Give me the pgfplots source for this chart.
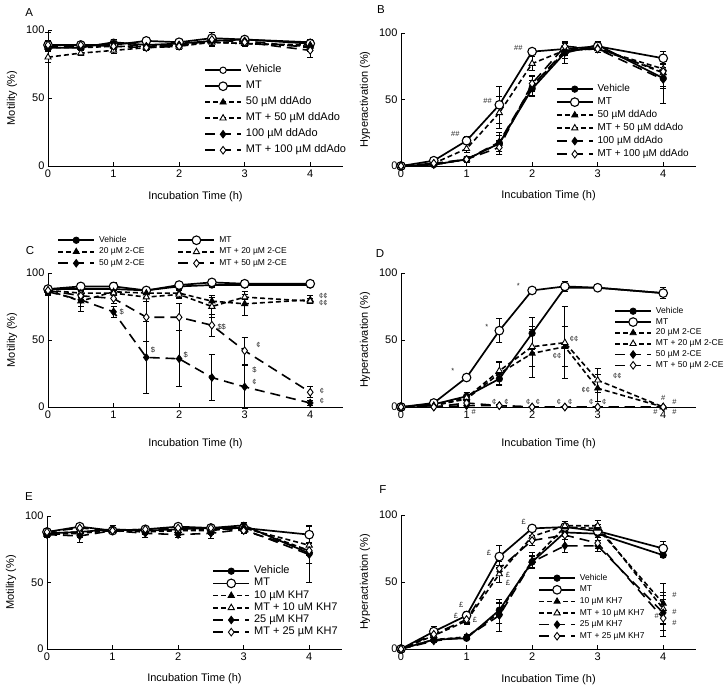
\documentclass[border=0pt]{standalone}
\usepackage{fontspec}
\setmainfont{Liberation Sans}
\usepackage{pgfplots}
\usepackage{pgfplotstable}
\pgfplotsset{compat=1.18}

% t = time (h); v = vehicle, m = MT, a/ma = low dose (+MT), b/mb = high dose (+MT); *e = error
\pgfplotstableread{
t   v  ve  m  me  a  ae  ma  mae  b  be  mb  mbe
0   87 2   89 3   87 2   80  4    88 2   89  9
0.5 87 2   89 2   87 2   83  2    88 2   89  2
1   91 2   89 2   88 2   85  2    90 3   88  2
1.5 89 2   92 2   88 2   87  2    88 2   87  2
2   90 2   91 2   89 2   88  2    89 2   88  2
2.5 92 3   94 4   91 2   91  2    92 3   93  5
3   93 2   93 2   90 2   90  2    92 2   91  2
4   91 2   90 2   89 2   88  2    87 3   85  5
}\tabA
\pgfplotstableread{
t   v  ve  m  me  a  ae  ma  mae  b  be  mb  mbe
0   0  0   0  0   0  0   0   0    0  0   0   0
0.5 1  1   4  1   1  1   2   1    1  1   2   1
1   5  1   19 3   5  2   13  3    5  2   5   2
1.5 17 6   46 14  17 8   40  12   18 5   14  5
2   58 6   86 2   60 7   77  5    60 8   62  6
2.5 85 8   88 4   86 5   87  4    87 6   90  4
3   91 3   90 2   89 4   88  3    88 3   88  3
4   66 8   81 5   70 10  73  8    65 18  71  6
}\tabB
\pgfplotstableread{
t   v  ve  m  me  a  ae  ma  mae  b  be  mb  mbe
0   88 2   88 2   87 3   87  2    86 3   87  2
0.5 88 2   90 2   79 8   85  3    80 5   83  3
1   88 3   90 3   86 2   85  2    71 4   81  4
1.5 87 2   87 2   85 3   82  3    37 27  67  18
2   90 2   91 3   85 3   84  3    36 21  67  10
2.5 91 2   93 2   79 3   75  8    22 17  61  8
3   91 2   92 2   77 9   82  2    15 16  42  10
4   91 2   92 2   80 3   79  2    3  2   11  4
}\tabC
\pgfplotstableread{
t   v  ve  m  me  a  ae  ma  mae  b  be  mb  mbe
0   0  0   0  0   0  0   0   0    0  0   0   0
0.5 2  1   3  1   1  1   1   1    0  0   0   0
1   8  3   22 2   6  2   7   2    1  1   3   1
1.5 21 5   57 9   25 8   27  7    1  1   1   1
2   55 12  87 2   40 18  45  15   0  0   0   0
2.5 89 3   90 4   45 15  48  27   0  0   0   0
3   89 2   89 2   14 10  20  9    0  0   0   0
4   85 4   85 4   0  0   0   0    0  0   0   0
}\tabD
\pgfplotstableread{
t   v  ve  m  me  a  ae  ma  mae  b  be  mb  mbe
0   87 2   88 2   86 2   87  2    86 2   88  2
0.5 88 2   92 2   87 3   88  2    85 5   91  2
1   90 3   89 2   89 2   89  2    89 2   89  2
1.5 89 2   90 2   88 2   89  2    87 3   90  2
2   90 2   92 2   89 2   89  2    86 2   91  2
2.5 91 2   91 2   89 3   90  2    87 4   91  2
3   93 2   91 2   92 2   91  2    90 2   89  2
4   72 8   86 7   74 10  78  8    71 21  74  10
}\tabE
\pgfplotstableread{
t   v  ve  m  me  a  ae  ma  mae  b  be  mb  mbe
0   0  0   0  0   0  0   0   0    0  0   0   0
0.5 7  1   13 4   7  2   10  2    6  1   11  2
1   8  1   25 3   9  2   21  3    9  1   22  3
1.5 29 5   69 8   27 8   56  6    25 12  60  5
2   65 4   90 2   66 6   84  4    65 5   81  4
2.5 87 3   91 2   91 3   92  3    77 5   85  3
3   86 3   88 3   90 3   92  4    77 4   79  4
4   70 2   75 5   34 15  30  12   27 13  23  14
}\tabF

\pgfplotsset{
  panel/.style={
    scale only axis, width=295pt, anchor=south west,
    xmin=0, xmax=4.5, ymin=0, ymax=100,
    axis x line*=bottom, axis y line*=left,
    axis line style={line width=0.9pt, black},
    xtick={0,1,2,3,4}, ytick={0,50,100},
    tick align=inside, major tick length=4pt,
    every tick/.style={black, line width=0.9pt},
    /pgf/number format/assume math mode=true,
    tick label style={font=\fontsize{11}{13}\selectfont},
    label style={font=\fontsize{11}{13}\selectfont},
    xlabel={Incubation Time (h)},
    xlabel style={at={(axis description cs:0.5,-0.225)}, anchor=center},
    ylabel style={at={(axis description cs:-0.122,0.5)}, anchor=center},
    clip=false,
    legend cell align=left,
    legend image code/.code={\draw[mark repeat=2,mark phase=2,##1] plot coordinates {(0pt,0pt) (18pt,0pt) (36pt,0pt)};},
    legend style={draw=none, fill=none, anchor=north west, inner sep=0pt,
      /tikz/every odd column/.append style={column sep=4pt}},
  },
  every axis plot/.append style={
    error bars/y dir=both, error bars/y explicit,
    error bars/error bar style={solid, line width=0.9pt, black},
    error bars/error mark options={rotate=90, solid, line width=0.9pt, mark size=3pt, black}},
  sveh/.style={black, solid, line width=1.7pt, mark=*, mark size=3.2pt, mark options={solid, fill=black, line width=0.8pt}},
  svehO/.style={black, solid, line width=1.7pt, mark=*, mark size=3.2pt, mark options={solid, fill=white, line width=1pt}},
  smt/.style={black, solid, line width=1.7pt, mark=*, mark size=4.3pt, mark options={solid, fill=white, line width=1.1pt}},
  sa/.style={black, line width=1.6pt, dash pattern=on 5pt off 3pt, mark=triangle*, mark size=3.6pt, mark options={solid, fill=black, line width=0.8pt}},
  sma/.style={black, line width=1.6pt, dash pattern=on 5pt off 3pt, mark=triangle*, mark size=3.6pt, mark options={solid, fill=white, line width=0.9pt}},
  sb/.style={black, line width=1.6pt, dash pattern=on 10pt off 6pt, mark=diamond*, mark size=3.8pt, mark options={solid, fill=black, line width=0.8pt}},
  smb/.style={black, line width=1.6pt, dash pattern=on 10pt off 6pt, mark=diamond*, mark size=3.8pt, mark options={solid, fill=white, line width=0.9pt}},
}
\tikzset{ann/.style={font=\fontsize{7.5}{8}\selectfont, inner sep=0pt, text=black!85},
  lett/.style={font=\fontsize{11.5}{13}\selectfont, inner sep=0pt}}

\begin{document}
\begin{tikzpicture}
\useasboundingbox (0pt,0pt) rectangle (725pt,689pt);

% ---------- A ----------
\begin{axis}[panel, at={(48pt,523pt)}, height=136pt,
  ylabel={Motility (\%)},
  legend style={at={(axis cs:2.38,74.6)}, font=\fontsize{11}{13}\selectfont, row sep=5pt,
    nodes={inner sep=0pt, text height=8pt, text depth=3pt}},
  legend entries={Vehicle, MT, 50 µM ddAdo, MT + 50 µM ddAdo, 100 µM ddAdo, MT + 100 µM ddAdo}]
\addplot[svehO] table[x=t,y=v,y error=ve]{\tabA};
\addplot[smt] table[x=t,y=m,y error=me]{\tabA};
\addplot[sa] table[x=t,y=a,y error=ae]{\tabA};
\addplot[sma] table[x=t,y=ma,y error=mae]{\tabA};
\addplot[sb] table[x=t,y=b,y error=be]{\tabA};
\addplot[smb] table[x=t,y=mb,y error=mbe]{\tabA};
\node[lett] at (rel axis cs:-0.064,1.125) {A};
\end{axis}

% ---------- B ----------
\begin{axis}[panel, at={(401pt,523pt)}, height=133pt,
  ylabel={Hyperactivation (\%)},
  legend style={at={(axis cs:2.36,61.7)}, font=\fontsize{10}{12}\selectfont, row sep=3pt,
    nodes={inner sep=0pt, text height=7.5pt, text depth=2.5pt}},
  legend entries={Vehicle, MT, 50 µM ddAdo, MT + 50 µM ddAdo, 100 µM ddAdo, MT + 100 µM ddAdo}]
\addplot[sveh] table[x=t,y=v,y error=ve]{\tabB};
\addplot[smt] table[x=t,y=m,y error=me]{\tabB};
\addplot[sa] table[x=t,y=a,y error=ae]{\tabB};
\addplot[sma] table[x=t,y=ma,y error=mae]{\tabB};
\addplot[sb] table[x=t,y=b,y error=be]{\tabB};
\addplot[smb] table[x=t,y=mb,y error=mbe]{\tabB};
\node[ann] at (axis cs:0.83,23.8) {\#\#};
\node[ann] at (axis cs:1.32,48.9) {\#\#};
\node[ann] at (axis cs:1.79,88.5) {\#\#};
\node[lett] at (rel axis cs:-0.068,1.18) {B};
\end{axis}

% ---------- C ----------
\begin{axis}[panel, at={(48pt,282pt)}, height=134pt,
  ylabel={Motility (\%)},
  xlabel style={at={(axis description cs:0.5,-0.276)}},
  legend columns=2,
  legend style={at={(axis cs:0.14,127.8)}, font=\fontsize{8.5}{10}\selectfont, row sep=3pt,
    nodes={inner sep=0pt, text height=6.3pt, text depth=2.2pt},
    /tikz/every even column/.append style={column sep=33pt}},
  legend entries={Vehicle, MT, 20 µM 2-CE, MT + 20 µM 2-CE, 50 µM 2-CE, MT + 50 µM 2-CE}]
\addplot[sveh] table[x=t,y=v,y error=ve]{\tabC};
\addplot[smt] table[x=t,y=m,y error=me]{\tabC};
\addplot[sa] table[x=t,y=a,y error=ae]{\tabC};
\addplot[sma] table[x=t,y=ma,y error=mae]{\tabC};
\addplot[sb] table[x=t,y=b,y error=be]{\tabC};
\addplot[smb] table[x=t,y=mb,y error=mbe]{\tabC};
\node[ann] at (axis cs:1.125,71) {\$};
\node[ann] at (axis cs:1.6,42.5) {\$};
\node[ann] at (axis cs:2.1,38.8) {\$};
\node[ann] at (axis cs:2.65,60) {\$\$};
\node[ann] at (axis cs:3.21,46) {¢};
\node[ann] at (axis cs:3.15,27.6) {\$};
\node[ann] at (axis cs:3.15,19) {¢};
\node[ann] at (axis cs:4.18,12) {¢};
\node[ann] at (axis cs:4.18,4.5) {¢};
\node[ann] at (axis cs:4.2,83) {¢¢};
\node[ann] at (axis cs:4.2,77.5) {¢¢};
\node[lett] at (rel axis cs:-0.061,1.164) {C};
\end{axis}

% ---------- D ----------
\begin{axis}[panel, at={(401pt,282pt)}, height=134pt,
  ylabel={Hyperactivation (\%)},
  xlabel style={at={(axis description cs:0.5,-0.276)}},
  legend style={at={(axis cs:3.25,74.8)}, font=\fontsize{8.5}{10}\selectfont, row sep=2.3pt,
    nodes={inner sep=0pt, text height=6.3pt, text depth=2.2pt}},
  legend entries={Vehicle, MT, 20 µM 2-CE, MT + 20 µM 2-CE, 50 µM 2-CE, MT + 50 µM 2-CE}]
\addplot[sveh] table[x=t,y=v,y error=ve]{\tabD};
\addplot[smt] table[x=t,y=m,y error=me]{\tabD};
\addplot[sa] table[x=t,y=a,y error=ae]{\tabD};
\addplot[sma] table[x=t,y=ma,y error=mae]{\tabD};
\addplot[sb] table[x=t,y=b,y error=be]{\tabD};
\addplot[smb] table[x=t,y=mb,y error=mbe]{\tabD};
\node[ann] at (axis cs:0.79,27) {*};
\node[ann] at (axis cs:1.31,60) {*};
\node[ann] at (axis cs:1.79,90) {*};
\node[ann] at (axis cs:2.64,51) {¢¢};
\node[ann] at (axis cs:2.38,38) {¢¢};
\node[ann] at (axis cs:3.3,23) {¢¢};
\node[ann] at (axis cs:2.82,13) {¢¢};
\node[ann] at (axis cs:1.42,4) {¢};
\node[ann] at (axis cs:1.61,4) {¢};
\node[ann] at (axis cs:1.94,4) {¢};
\node[ann] at (axis cs:2.09,4) {¢};
\node[ann] at (axis cs:2.41,4) {¢};
\node[ann] at (axis cs:2.58,4) {¢};
\node[ann] at (axis cs:2.9,4) {¢};
\node[ann] at (axis cs:3.1,4) {¢};
\node[ann] at (axis cs:1.11,-4) {\#};
\node[ann] at (axis cs:4.0,7) {\#};
\node[ann] at (axis cs:4.17,3.5) {\#};
\node[ann] at (axis cs:3.88,-4) {\#};
\node[ann] at (axis cs:4.17,-4) {\#};
\node[lett] at (rel axis cs:-0.071,1.142) {D};
\end{axis}

% ---------- E ----------
\begin{axis}[panel, at={(47pt,40pt)}, height=133pt,
  ylabel={Motility (\%)},
  legend style={at={(axis cs:2.52,62.8)}, font=\fontsize{11}{13}\selectfont, row sep=1.2pt,
    nodes={inner sep=0pt, text height=8pt, text depth=3pt}},
  legend entries={Vehicle, MT, 10 µM KH7, MT + 10 uM KH7, 25 µM KH7, MT + 25 µM KH7}]
\addplot[sveh] table[x=t,y=v,y error=ve]{\tabE};
\addplot[smt] table[x=t,y=m,y error=me]{\tabE};
\addplot[sa] table[x=t,y=a,y error=ae]{\tabE};
\addplot[sma] table[x=t,y=ma,y error=mae]{\tabE};
\addplot[sb] table[x=t,y=b,y error=be]{\tabE};
\addplot[smb] table[x=t,y=mb,y error=mbe]{\tabE};
\node[lett] at (rel axis cs:-0.061,1.143) {E};
\end{axis}

% ---------- F ----------
\begin{axis}[panel, at={(401pt,40pt)}, height=134pt,
  ylabel={Hyperactivation (\%)},
  legend style={at={(axis cs:2.09,56.2)}, font=\fontsize{8.5}{10}\selectfont, row sep=3.1pt,
    nodes={inner sep=0pt, text height=6.3pt, text depth=2.2pt}},
  legend entries={Vehicle, MT, 10 µM KH7, MT + 10 µM KH7, 25 µM KH7, MT + 25 µM KH7}]
\addplot[sveh] table[x=t,y=v,y error=ve]{\tabF};
\addplot[smt] table[x=t,y=m,y error=me]{\tabF};
\addplot[sa] table[x=t,y=a,y error=ae]{\tabF};
\addplot[sma] table[x=t,y=ma,y error=mae]{\tabF};
\addplot[sb] table[x=t,y=b,y error=be]{\tabF};
\addplot[smb] table[x=t,y=mb,y error=mbe]{\tabF};
\node[ann] at (axis cs:1.87,95) {£};
\node[ann] at (axis cs:1.34,72) {£};
\node[ann] at (axis cs:1.63,55) {£};
\node[ann] at (axis cs:1.63,49) {£};
\node[ann] at (axis cs:0.92,33) {£};
\node[ann] at (axis cs:0.84,25) {£};
\node[ann] at (axis cs:1.13,22) {£};
\node[ann] at (axis cs:4.17,40) {\#};
\node[ann] at (axis cs:4.17,28) {\#};
\node[ann] at (axis cs:4.17,19.5) {\#};
\node[ann] at (axis cs:3.9,25) {\#};
\node[lett] at (rel axis cs:-0.061,1.187) {F};
\end{axis}
\end{tikzpicture}
\end{document}
